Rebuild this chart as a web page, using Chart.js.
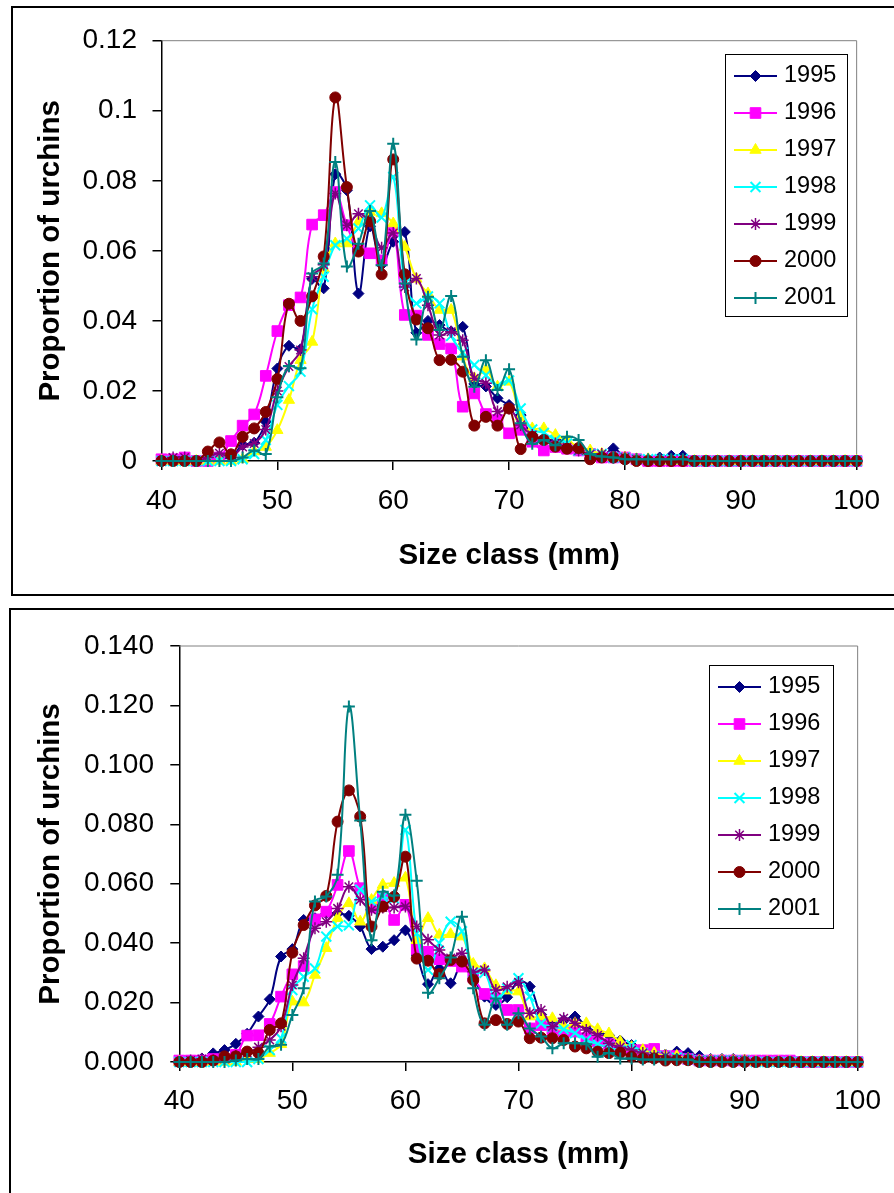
<!DOCTYPE html>
<html>
<head>
<meta charset="utf-8">
<script src="https://cdn.jsdelivr.net/npm/chart.js@4/dist/chart.umd.min.js"></script>
<style>
  html, body { margin: 0; padding: 0; background: #fff; width: 894px; height: 1193px; overflow: hidden; }
  .frame { position: absolute; border: 2px solid #000; box-sizing: border-box; }
  #frameTop { left: 11px; top: 6px; width: 900px; height: 590px; }
  #frameBottom { left: 9px; top: 608px; width: 900px; height: 600px; }
  canvas { position: absolute; left: 0; }
  #chartTop { top: 0; }
  #chartBottom { top: 600px; }
</style>
</head>
<body>
<div class="frame" id="frameTop"></div>
<div class="frame" id="frameBottom"></div>
<canvas id="chartTop" width="894" height="600"></canvas>
<canvas id="chartBottom" width="894" height="593"></canvas>
<script>
// Size classes (mm)
const sizeClass = [40,41,42,43,44,45,46,47,48,49,50,51,52,53,54,55,56,57,58,59,60,
  61,62,63,64,65,66,67,68,69,70,71,72,73,74,75,76,77,78,79,80,
  81,82,83,84,85,86,87,88,89,90,91,92,93,94,95,96,97,98,99,100];

const years = ['1995','1996','1997','1998','1999','2000','2001'];

// Upper panel: proportion of urchins per size class
const top1995 = [0,0,0,0,0.001,0.001,0.001,0.0046,0.0052,0.0112,0.0264,0.0329,0.0319,0.052,0.0493,0.0819,0.0773,0.0478,0.067,0.056,0.0626,
  0.0654,0.0366,0.040,0.0388,0.037,0.0383,0.022,0.0213,0.0179,0.016,0.0131,0.007,0.006,0.006,0.005,0.004,0.002,0.001,0.0036,0.001,
  0.0005,0.0005,0.001,0.0015,0.0015,0,0,0,0,0,0,0,0,0,0,0,0,0,0,0];
const top1996 = [0.0005,0.0005,0.001,0,0,0.001,0.0057,0.0101,0.0133,0.0243,0.0371,0.0445,0.0467,0.0675,0.0702,0.0768,0.0673,0.0602,0.0593,0.0573,0.0657,
  0.0417,0.0415,0.036,0.0334,0.0321,0.0155,0.0193,0.0134,0.0117,0.0079,0.0089,0.0055,0.003,0.004,0.0035,0.003,0.002,0.001,0.001,0.001,
  0.0005,0,0,0,0,0,0,0,0,0,0,0,0,0,0,0,0,0,0,0];
const top1997 = [0,0,0,0,0,0,0,0.0005,0.0027,0.004,0.0088,0.0174,0.0288,0.034,0.055,0.0621,0.0621,0.0683,0.0711,0.0707,0.0678,
  0.0611,0.052,0.0478,0.0431,0.0431,0.0298,0.0236,0.026,0.0212,0.0226,0.0127,0.0093,0.0093,0.0074,0.006,0.004,0.003,0.002,0.001,0.001,
  0.0005,0.0005,0,0,0,0,0,0,0,0,0,0,0,0,0,0,0,0,0,0];
const top1998 = [0,0,0,0,0,0,0,0.0005,0.002,0.006,0.016,0.0214,0.0255,0.0433,0.0526,0.0616,0.0635,0.0664,0.073,0.0695,0.0811,
  0.0507,0.045,0.047,0.045,0.0357,0.031,0.0274,0.0245,0.0214,0.023,0.015,0.009,0.008,0.006,0.005,0.003,0.002,0.002,0.001,0.001,
  0.0005,0.0005,0.0005,0.0005,0.0005,0,0,0,0,0,0,0,0,0,0,0,0,0,0,0];
const top1999 = [0,0.001,0.001,0,0.001,0.0022,0.001,0.004,0.005,0.009,0.020,0.027,0.0317,0.0526,0.056,0.0764,0.0673,0.0706,0.068,0.0609,0.0651,
  0.0497,0.0521,0.0445,0.036,0.0369,0.0345,0.0236,0.0222,0.0141,0.015,0.0103,0.0074,0.006,0.005,0.004,0.003,0.002,0.002,0.001,0.001,
  0.0005,0,0,0,0,0,0,0,0,0,0,0,0,0,0,0,0,0,0,0];
const top2000 = [0,0,0,0,0.0027,0.0053,0.0019,0.0069,0.0093,0.014,0.0234,0.0449,0.040,0.047,0.0584,0.1038,0.0782,0.0598,0.0685,0.0533,0.0861,
  0.0533,0.0404,0.0379,0.0288,0.0289,0.0255,0.0101,0.0126,0.0101,0.015,0.0034,0.0069,0.006,0.0041,0.0035,0.0037,0.0005,0.001,0.001,0.0005,
  0,0,0,0,0,0,0,0,0,0,0,0,0,0,0,0,0,0,0,0];
const top2001 = [0,0,0,0,0,0,0,0.001,0.003,0.002,0.0182,0.0271,0.0265,0.0535,0.0564,0.0854,0.0555,0.062,0.0714,0.0559,0.0906,
  0.0507,0.0347,0.0469,0.0374,0.0471,0.0298,0.0212,0.0288,0.0203,0.0262,0.0108,0.0049,0.006,0.0045,0.0069,0.006,0.002,0.0013,0.001,0.0005,
  0.0005,0.0005,0.0005,0.0005,0.0005,0,0,0,0,0,0,0,0,0,0,0,0,0,0,0];

// Lower panel: proportion of urchins per size class
const bot1995 = [0,0.0005,0.0012,0.0029,0.004,0.0061,0.0095,0.0153,0.0211,0.0355,0.038,0.0478,0.0484,0.050,0.050,0.0492,0.0456,0.038,0.0388,0.041,0.0443,
  0.036,0.0262,0.0315,0.0265,0.033,0.028,0.022,0.0192,0.0218,0.027,0.0254,0.016,0.013,0.014,0.0153,0.012,0.010,0.009,0.0072,0.0057,
  0.004,0.003,0.0025,0.0035,0.003,0.002,0.001,0.001,0.001,0.0005,0,0,0,0,0,0,0,0,0,0];
const bot1996 = [0.0005,0.0005,0.0005,0.001,0.001,0.0024,0.0089,0.009,0.0128,0.022,0.0295,0.0323,0.048,0.0506,0.0596,0.071,0.0585,0.052,0.0551,0.0478,0.0529,
  0.038,0.0371,0.0346,0.034,0.0321,0.0286,0.0229,0.0214,0.0175,0.0175,0.0113,0.0124,0.011,0.010,0.0102,0.008,0.007,0.006,0.005,0.004,
  0.004,0.0044,0.002,0.002,0.001,0.0005,0.0005,0.0005,0.0005,0.0005,0.0005,0.0005,0.0005,0.0005,0,0,0,0,0,0];
const bot1997 = [0,0,0,0,0,0,0.001,0.001,0.003,0.006,0.0203,0.020,0.0293,0.0383,0.0484,0.0534,0.0472,0.0545,0.0596,0.0602,0.062,
  0.041,0.0484,0.0428,0.043,0.0422,0.033,0.0315,0.0258,0.024,0.0237,0.0153,0.0153,0.0147,0.0119,0.013,0.013,0.011,0.0096,0.0068,0.005,
  0.004,0.003,0.002,0.002,0.001,0.0005,0.0005,0.0005,0.0005,0.0005,0,0,0,0,0,0,0,0,0,0];
const bot1998 = [0,0,0,0,0,0,0,0.001,0.004,0.008,0.0242,0.0287,0.0315,0.0422,0.0456,0.046,0.058,0.054,0.0556,0.055,0.0781,
  0.0433,0.031,0.040,0.0472,0.044,0.030,0.030,0.021,0.0247,0.0282,0.022,0.013,0.0119,0.011,0.0097,0.0074,0.006,0.005,0.004,0.0057,
  0.003,0.002,0.002,0.0015,0.001,0.0005,0.0005,0.0005,0.0005,0.0005,0,0,0,0,0,0,0,0,0,0];
const bot1999 = [0,0.0005,0.001,0.0005,0.001,0.002,0.003,0.005,0.0074,0.012,0.0259,0.0349,0.045,0.0472,0.0517,0.059,0.0546,0.0512,0.052,0.052,0.0523,
  0.0456,0.0411,0.0377,0.035,0.0366,0.0304,0.031,0.0242,0.0253,0.0268,0.0164,0.0175,0.0119,0.0147,0.013,0.0108,0.009,0.0063,0.005,0.004,
  0.003,0.002,0.002,0.001,0.001,0.0005,0.0005,0.0005,0.0005,0.0005,0,0,0,0,0,0,0,0,0,0];
const bot2000 = [0,0,0,0.0005,0.0019,0.0019,0.0035,0.003,0.0108,0.013,0.0368,0.0461,0.0527,0.0559,0.0809,0.0914,0.0826,0.0456,0.0523,0.0556,0.0691,
  0.0348,0.0341,0.0296,0.0343,0.0338,0.0276,0.013,0.0141,0.0128,0.0136,0.008,0.0082,0.008,0.0074,0.0052,0.0046,0.0035,0.003,0.0031,0.0018,
  0.0012,0.0012,0.0005,0.0006,0.0006,0,0,0,0,0,0,0,0,0,0,0,0,0,0,0];
const bot2001 = [0,0,0,0,0,0.0005,0.001,0.001,0.0052,0.0058,0.0158,0.0248,0.054,0.0557,0.063,0.1196,0.0813,0.041,0.0573,0.056,0.0832,
  0.061,0.0233,0.0282,0.0352,0.0489,0.0248,0.0125,0.0214,0.0125,0.0164,0.0113,0.0086,0.0046,0.0063,0.0063,0.006,0.0018,0.003,0.0012,0.0012,
  0.0008,0.0008,0.0008,0.0008,0.0008,0,0,0,0,0,0,0,0,0,0,0,0,0,0,0];

// Tick labels
const xTickLabels = ['40','50','60','70','80','90','100'];
const yTicksTop = ['0','0.02','0.04','0.06','0.08','0.1','0.12'];
const yTicksBottom = ['0.000','0.020','0.040','0.060','0.080','0.100','0.120','0.140'];

const FONT = '"Liberation Sans", Arial, Helvetica, sans-serif';

// Marker styling per year
const seriesStyle = [
  { color: '#000080', pointStyle: 'rectRot',  radius: 5.5, bw: 1 },
  { color: '#FF00FF', pointStyle: 'rect',     radius: 7.5, bw: 1 },
  { color: '#FFFF00', pointStyle: 'triangle', radius: 6.5, bw: 1 },
  { color: '#00FFFF', pointStyle: 'crossRot', radius: 7,   bw: 2 },
  { color: '#800080', pointStyle: 'star',     radius: 6,   bw: 1.5 },
  { color: '#800000', pointStyle: 'circle',   radius: 5.5, bw: 1 },
  { color: '#008080', pointStyle: 'cross',    radius: 6,   bw: 2 }
];

function buildDatasets(seriesList) {
  return seriesList.map((values, i) => {
    const st = seriesStyle[i];
    return {
      label: years[i],
      data: values.map((v, k) => ({ x: sizeClass[k], y: v })),
      borderColor: st.color,
      backgroundColor: st.color,
      borderWidth: 2,
      tension: 0.4,
      pointStyle: st.pointStyle,
      pointRadius: st.radius,
      pointBackgroundColor: st.color,
      pointBorderColor: st.color,
      pointBorderWidth: st.bw,
      clip: false,
      order: seriesList.length - i
    };
  });
}

// Gray outline along the top and right of the plot area
const plotFrame = {
  id: 'plotFrame',
  beforeDatasetsDraw(chart) {
    const { ctx, chartArea: a } = chart;
    ctx.save();
    ctx.strokeStyle = '#808080';
    ctx.lineWidth = 1;
    ctx.beginPath();
    ctx.moveTo(a.left, a.top);
    ctx.lineTo(a.right, a.top);
    ctx.lineTo(a.right, a.bottom);
    ctx.stroke();
    ctx.restore();
  }
};

// Boxed legend inside the plot
const boxLegend = {
  id: 'boxLegend',
  afterDraw(chart, args, opts) {
    const ctx = chart.ctx;
    const { x, y, w, h, first, gap } = opts;
    ctx.save();
    ctx.fillStyle = '#fff';
    ctx.fillRect(x, y, w, h);
    ctx.strokeStyle = '#000';
    ctx.lineWidth = 1;
    ctx.strokeRect(x + 0.5, y + 0.5, w, h);
    ctx.font = '23.5px ' + FONT;
    ctx.textBaseline = 'middle';
    ctx.textAlign = 'left';
    chart.data.datasets.forEach((ds, i) => {
      const cy = y + first + i * gap;
      ctx.strokeStyle = ds.borderColor;
      ctx.lineWidth = 2;
      ctx.beginPath();
      ctx.moveTo(x + 9, cy);
      ctx.lineTo(x + 52, cy);
      ctx.stroke();
      ctx.fillStyle = ds.pointBackgroundColor;
      ctx.strokeStyle = ds.pointBorderColor;
      ctx.lineWidth = ds.pointBorderWidth;
      Chart.helpers.drawPoint(ctx, {
        pointStyle: ds.pointStyle, rotation: 0,
        radius: ds.pointRadius, borderWidth: ds.pointBorderWidth
      }, x + 30.5, cy);
      ctx.fillStyle = '#000';
      ctx.fillText(ds.label, x + 59, cy);
    });
    ctx.restore();
  }
};

function makeChart(canvasId, seriesList, cfg) {
  return new Chart(document.getElementById(canvasId), {
    type: 'line',
    data: { datasets: buildDatasets(seriesList) },
    plugins: [plotFrame, boxLegend],
    options: {
      responsive: false,
      animation: false,
      devicePixelRatio: 1,
      layout: { padding: cfg.padding },
      plugins: {
        legend: { display: false },
        tooltip: { enabled: false },
        boxLegend: cfg.legend
      },
      scales: {
        x: {
          type: 'linear', min: 40, max: 100,
          ticks: {
            stepSize: 10, autoSkip: false, maxRotation: 0,
            color: '#000', padding: cfg.xTickPad,
            font: { family: FONT, size: 28 },
            callback: (v) => xTickLabels.find(t => Number(t) === v)
          },
          grid: { drawOnChartArea: false, drawTicks: true, tickLength: 9, color: '#000', lineWidth: 1.5 },
          border: { display: true, color: '#000', width: 1.5 },
          title: {
            display: true, text: 'Size class (mm)', color: '#000',
            font: { family: FONT, size: 29.5, weight: 'bold' },
            padding: { top: 0, bottom: cfg.xTitlePad }
          },
          afterFit: (s) => { s.height = cfg.xHeight; }
        },
        y: {
          type: 'linear', min: 0, max: cfg.yMax,
          ticks: {
            stepSize: 0.02, autoSkip: false,
            color: '#000', padding: cfg.yTickPad,
            font: { family: FONT, size: 28 },
            callback: (v) => cfg.yLabels.find(t => Math.abs(parseFloat(t) - v) < 1e-9)
          },
          grid: { drawOnChartArea: false, drawTicks: true, tickLength: 9, color: '#000', lineWidth: 1.5 },
          border: { display: true, color: '#000', width: 1.5 },
          title: {
            display: true, text: 'Proportion of urchins', color: '#000',
            font: { family: FONT, size: 29.5, weight: 'bold' },
            padding: { top: 33, bottom: 0 }
          },
          afterFit: (s) => { s.width = cfg.yWidth; }
        }
      }
    }
  });
}

makeChart('chartTop', [top1995, top1996, top1997, top1998, top1999, top2000, top2001], {
  padding: { left: 0, top: 40.7, right: 27, bottom: 0 },
  yWidth: 161.5, xHeight: 139,
  yMax: 0.12, yLabels: yTicksTop,
  xTickPad: 14, yTickPad: 15.5, xTitlePad: 26,
  legend: { x: 725, y: 54, w: 122, h: 262, first: 22, gap: 37 }
});

makeChart('chartBottom', [bot1995, bot1996, bot1997, bot1998, bot1999, bot2000, bot2001], {
  padding: { left: 0, top: 46, right: 35.5, bottom: 0 },
  yWidth: 179.3, xHeight: 131,
  yMax: 0.14, yLabels: yTicksBottom,
  xTickPad: 13, yTickPad: 16.3, xTitlePad: 20,
  legend: { x: 709, y: 65, w: 124, h: 263, first: 22, gap: 37 }
});
</script>
</body>
</html>
